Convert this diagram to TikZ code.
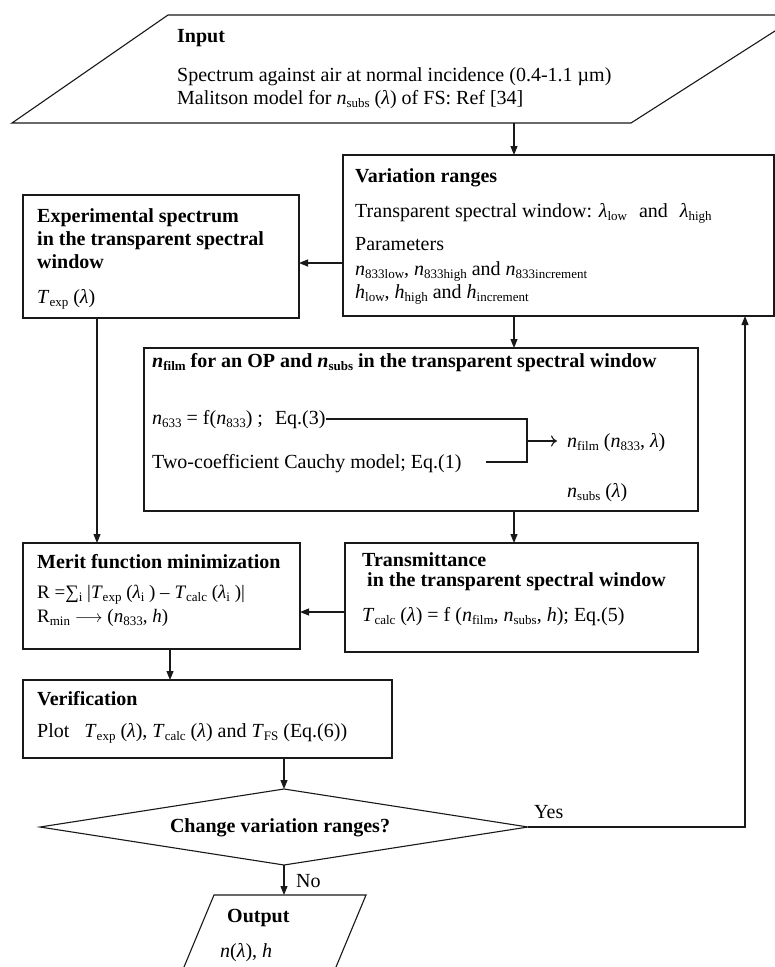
\documentclass[tikz,border=0pt]{standalone}
\usepackage{fontspec}
\setmainfont{Liberation Serif}
\usetikzlibrary{arrows.meta,shapes.geometric,calc}
\newcommand\lo[1]{\raisebox{-3pt}{\fontsize{13}{13}\selectfont\upshape #1}}
\newcommand\il{\textit{λ}}
\tikzset{
  ln/.style={line width=1.1pt, draw=black!90},
  box/.style={ln, rectangle, inner sep=0pt, outer sep=0pt},
  arr/.style={ln, -{Triangle[length=9pt,width=7pt]}},
  oarr/.style={ln, -{To[length=6pt,width=11pt]}},
  txt/.style={anchor=base west, inner sep=0pt, font=\fontsize{20}{24}\selectfont},
  btxt/.style={anchor=base west, inner sep=0pt, font=\fontsize{20}{24}\selectfont\bfseries},
  stxt/.style={anchor=base west, inner sep=0pt, font=\fontsize{19}{22}\selectfont}
}
\begin{document}
\begin{tikzpicture}[x=1pt,y=-1pt]
\useasboundingbox (0,0) rectangle (775,967);
\fill[white] (0,0) rectangle (775,967);

% Input parallelogram
\draw[ln] (168,15) -- (800,15) -- (631,123) -- (12,123) -- cycle;
\coordinate (ibot) at (514,123);
\node[btxt] (intitle) at (177,42) {Input};
\node[txt] (in1) at (177,81) {Spectrum against air at normal incidence (0.4-1.1 µm)};
\node[txt] (in2) at (177,104) {Malitson model for \textit{n}\lo{subs} (\il) of FS: Ref [34]};

% boxes
\node[box, minimum width=431pt, minimum height=161pt] (vr) at (558.5,235.5) {};
\node[box, minimum width=276pt, minimum height=123pt] (exp) at (161,256.5) {};
\node[box, minimum width=554pt, minimum height=163pt] (nf) at (421,429.5) {};
\node[box, minimum width=353pt, minimum height=109pt] (tr) at (521.5,597.5) {};
\node[box, minimum width=277pt, minimum height=106pt] (mf) at (161.5,596) {};
\node[box, minimum width=369pt, minimum height=78pt] (ver) at (207.5,719) {};
\node[ln, diamond, minimum width=488pt, minimum height=76pt, inner sep=0pt, outer sep=0pt, aspect=6.4] (dq) at (284,827) {};

% Output parallelogram
\draw[ln] (214,895) -- (366,895) -- (328.5,985) -- (176.5,985) -- cycle;
\coordinate (otop) at (284,895);

% Variation ranges text
\node[btxt] (vrt) at (355,182) {Variation ranges};
\node[txt] (vr1) at (355,217) {Transparent spectral window: \il\lo{low}\hspace{12pt}and\hspace{12pt}\il\lo{high}};
\node[txt] (vr2) at (355,250) {Parameters};
\node[txt] (vr3) at (355,275) {\textit{n}\lo{833low}, \textit{n}\lo{833high} and \textit{n}\lo{833increment}};
\node[txt] (vr4) at (355,298) {\textit{h}\lo{low}, \textit{h}\lo{high} and \textit{h}\lo{increment}};

% Experimental spectrum text
\node[btxt] (ex1) at (37,222) {Experimental spectrum};
\node[btxt] (ex2) at (37,245) {in the transparent spectral};
\node[btxt] (ex3) at (37,268) {window};
\node[txt] (ex4) at (37,303) {\textit{T}\lo{exp} (\il)};

% n_film box text
\node[btxt] (nft) at (152,367) {\textit{n}\lo{film} for an OP and \textit{n}\lo{subs} in the transparent spectral window};
\node[txt] (eq3) at (152,424) {\textit{n}\lo{633} = f(\textit{n}\lo{833})\hspace{5pt};\hspace{12pt}Eq.(3)};
\node[txt] (eq1) at (152,468) {Two-coefficient Cauchy model; Eq.(1)};
\node[txt] (nfl) at (567,447) {\textit{n}\lo{film} (\textit{n}\lo{833}, \il)};
\node[txt] (nsb) at (567,497) {\textit{n}\lo{subs} (\il)};
\coordinate (bt) at (527,419);
\coordinate (bb) at (527,462);
\coordinate (bm) at (527,441);
\draw[ln] (eq3.east |- bt) -- (bt) -- (bb) -- ([xshift=24pt]eq1.east |- bb);
\draw[oarr] (bm) -- ([xshift=-10pt]nfl.west |- bm);

% Transmittance text
\node[btxt] (tr1) at (362,566) {Transmittance};
\node[btxt] (tr2) at (367,586) {in the transparent spectral window};
\node[txt] (tr3) at (362,621) {\textit{T}\lo{calc} (\il) = f (\textit{n}\lo{film}, \textit{n}\lo{subs}, \textit{h}); Eq.(5)};

% Merit text
\node[btxt] (mf1) at (37,568) {Merit function minimization};
\node[stxt] (mf2) at (37,598) {R =∑\lo{i} |\textit{T}\lo{exp} (\il\lo{i} ) – \textit{T}\lo{calc} (\il\lo{i} )|};
\node[stxt] (mf3) at (37,622) {R\lo{min} $\longrightarrow$ (\textit{n}\lo{833}, \textit{h})};

% Verification text
\node[btxt] (ve1) at (37,705) {Verification};
\node[txt] (ve2) at (37,737) {Plot\hspace{15pt}\textit{T}\lo{exp} (\il), \textit{T}\lo{calc} (\il) and \textit{T}\lo{FS} (Eq.(6))};

% Decision text
\node[btxt, anchor=base] (dqt) at (280,832) {Change variation ranges?};
\node[txt] (yes) at (534,818) {Yes};
\node[txt] (no) at (296,887) {No};

% Output text
\node[btxt] (ot1) at (227,922) {Output};
\node[txt] (ot2) at (220,957) {\textit{n}(\il), \textit{h}};

% connectors
\draw[arr] (ibot) -- (ibot |- vr.north);
\draw[arr] ([yshift=-27.5pt]vr.west) -- ([yshift=-27.5pt]vr.west -| exp.east);
\draw[arr] (ibot |- vr.south) -- (ibot |- nf.north);
\draw[arr] ([xshift=-64pt]exp.south) -- ([xshift=-64pt]exp.south |- mf.north);
\draw[arr] (ibot |- nf.south) -- (ibot |- tr.north);
\draw[arr] ([yshift=-14.5pt]tr.west) -- ([yshift=-14.5pt]tr.west -| mf.east);
\draw[arr] ([xshift=8.5pt]mf.south) -- ([xshift=8.5pt]mf.south |- ver.north);
\draw[arr] (dq.north |- ver.south) -- (dq.north);
\draw[arr] (dq.south) -- (otop);
\draw[arr] (dq.east) -| ([xshift=186.5pt]vr.south);
\end{tikzpicture}
\end{document}
